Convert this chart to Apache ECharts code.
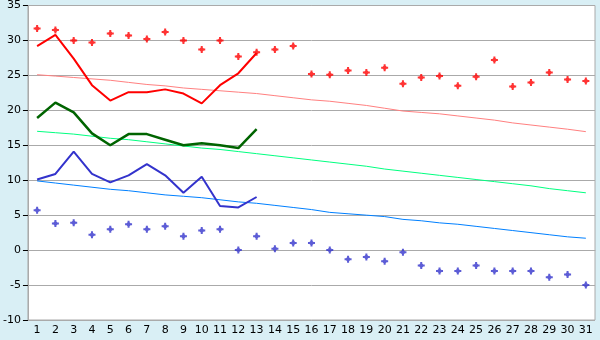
<!DOCTYPE html>
<html>
<head>
<meta charset="utf-8">
<script src="https://cdn.jsdelivr.net/npm/echarts@6/dist/echarts.min.js"></script>
<style>html,body{margin:0;padding:0;background:#D9EFF5;}#c{width:600px;height:340px;}</style>
</head>
<body>
<div id="c"></div>
<script>
var days = [];
for (var d = 1; d <= 31; d++) days.push(String(d));
var yTicks = { min: -10, max: 35, interval: 5 };

var maxPoints = [31.7,31.5,30.0,29.7,31.0,30.7,30.2,31.2,30.0,28.7,30.0,27.7,28.3,28.7,29.2,25.2,25.1,25.7,25.4,26.1,23.8,24.7,24.9,23.5,24.8,27.2,23.4,24.0,25.4,24.4,24.2];
var minPoints = [5.7,3.8,3.9,2.2,3.0,3.7,3.0,3.4,2.0,2.8,3.0,0.0,2.0,0.2,1.0,1.0,0.0,-1.3,-1.0,-1.6,-0.3,-2.2,-3.0,-3.0,-2.2,-3.0,-3.0,-3.0,-3.9,-3.5,-5.0];
var maxLine = [29.2,30.8,27.4,23.6,21.4,22.6,22.6,23.0,22.4,21.0,23.6,25.3,28.2];
var meanLine = [18.9,21.1,19.7,16.7,15.0,16.6,16.6,15.8,15.0,15.3,15.0,14.6,17.3];
var minLine = [10.1,10.9,14.1,10.9,9.7,10.7,12.3,10.7,8.2,10.5,6.3,6.1,7.6];
var maxNormal = [25.1,24.9,24.7,24.5,24.3,24.0,23.7,23.5,23.2,23.0,22.8,22.6,22.4,22.1,21.8,21.5,21.3,21.0,20.7,20.3,19.9,19.7,19.5,19.2,18.9,18.6,18.2,17.9,17.6,17.3,16.95];
var meanNormal = [17.0,16.8,16.6,16.3,16.0,15.8,15.5,15.2,14.9,14.6,14.4,14.1,13.8,13.5,13.2,12.9,12.6,12.3,12.0,11.6,11.3,11.0,10.7,10.4,10.1,9.8,9.5,9.2,8.8,8.5,8.2];
var minNormal = [9.9,9.6,9.3,9.0,8.7,8.5,8.2,7.9,7.7,7.5,7.2,6.9,6.7,6.4,6.1,5.8,5.4,5.2,5.0,4.8,4.4,4.2,3.9,3.7,3.4,3.1,2.8,2.5,2.2,1.9,1.7];

var star = 'path://M-1,-3.5 L1,-3.5 L1,-2 L2,-1 L3.5,-1 L3.5,1 L2,1 L1,2 L1,3.5 L-1,3.5 L-1,2 L-2,1 L-3.5,1 L-3.5,-1 L-2,-1 L-1,-2 Z';
function line(data, color, width, z) {
  return { type: 'line', data: data, symbol: 'none', lineStyle: { color: color, width: width }, itemStyle: { color: color }, z: z, animation: false, silent: true };
}
function pts(data, color) {
  return { type: 'scatter', data: data, symbol: star, symbolSize: 7, itemStyle: { color: color }, z: 5, animation: false, silent: true };
}
var chart = echarts.init(document.getElementById('c'), null, { renderer: 'canvas' });
chart.setOption({
  backgroundColor: '#D9EFF5',
  animation: false,
  grid: { left: 26, top: 5, width: 569, height: 315, show: true, backgroundColor: '#ffffff', borderColor: '#aaaaaa', borderWidth: 1 },
  xAxis: {
    type: 'category', data: days, boundaryGap: true,
    axisLine: { lineStyle: { color: '#aaaaaa' } },
    axisTick: { alignWithLabel: true, length: 5, lineStyle: { color: '#000' } },
    axisLabel: { color: '#000', fontFamily: 'DejaVu Sans', fontSize: 11, margin: 5, interval: 0 },
    splitLine: { show: false }
  },
  yAxis: {
    type: 'value', min: yTicks.min, max: yTicks.max, interval: yTicks.interval,
    axisLine: { show: true, lineStyle: { color: '#aaaaaa' } },
    axisTick: { show: true, length: 5, lineStyle: { color: '#000' } },
    axisLabel: { color: '#000', fontFamily: 'DejaVu Sans', fontSize: 11, margin: 7 },
    splitLine: { lineStyle: { color: '#aaaaaa', width: 1 } }
  },
  series: [
    line(maxNormal, '#FF8080', 1, 2),
    line(meanNormal, '#00FF80', 1, 2),
    line(minNormal, '#0080FF', 1, 2),
    line(maxLine, '#FF0000', 2, 3),
    line(meanLine, '#006400', 2.5, 3),
    line(minLine, '#3333CC', 2, 3),
    pts(maxPoints, '#FF0000'),
    pts(minPoints, '#3333CC')
  ]
});
</script>
</body>
</html>
